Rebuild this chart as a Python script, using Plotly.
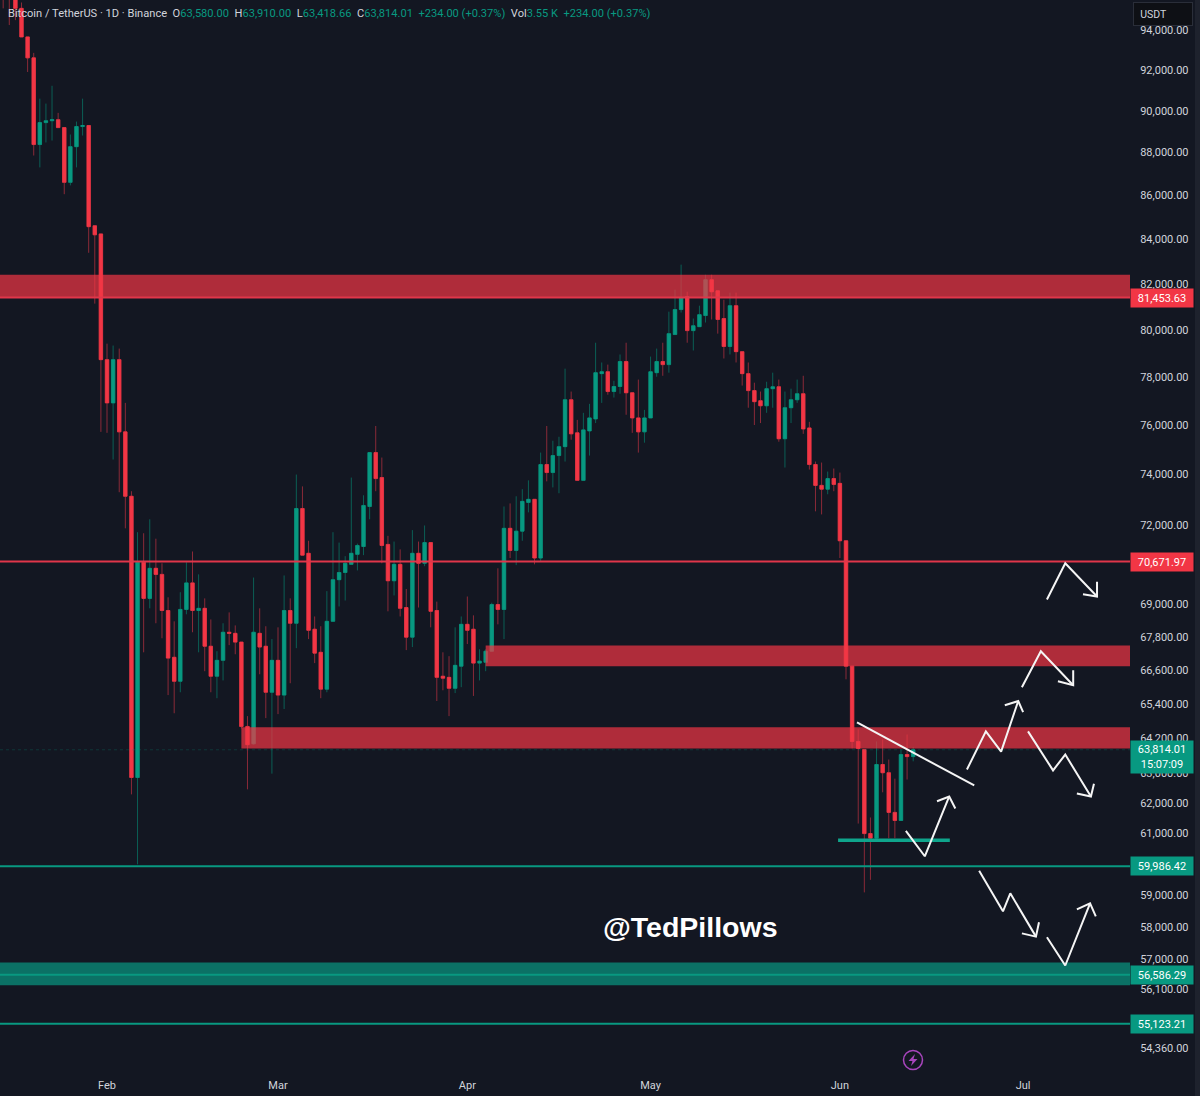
import math
import pandas as pd
import plotly.graph_objects as go

BG = '#131722'
RED = '#f23645'
GREEN = '#089981'
RED_WICK = '#8a2a38'
GREEN_WICK = '#0b5f55'
TEXT = '#d1d4dc'
FONT = 'Roboto'

FIRST_DAY = '2026-01-15'
OPEN = [97000, 96000, 95600, 95100, 93650, 92600, 88380, 89430, 89520, 89570, 89190, 86600, 88280, 89240, 89290, 84600, 84230,
        78720, 76910, 78720, 75720, 73140, 62870, 70590, 69230, 70360, 70130, 68780, 67070, 66210, 68820, 69810, 68780, 68860, 67470, 66390, 66960, 67980, 67940, 67620, 64620, 64020, 67940, 67470, 65820, 66960,
        65720, 68780, 68310, 72660, 70930, 68090, 67250, 65930, 68380, 69930, 70200, 70510, 70890, 71190, 72740, 74880, 73880, 71270, 69890, 70510, 68890, 67800, 70930, 70550, 71340, 68780, 66390, 66350, 65960, 66750,
        68270, 68090, 66860, 66890, 67290, 69000, 68820, 71890, 71040, 71780, 72900, 73020, 70750, 74400, 74080, 74760, 75120, 77040, 75680, 73770, 75760, 76250, 78130, 78210, 77380, 77590, 78640, 77330, 76290, 75720,
        76290, 78170, 78640, 78510, 79790, 80870, 81430, 79960, 80130, 80610, 82180, 81690, 80480, 79280, 81040, 79060, 78130, 77420, 77000, 76790, 77500, 77580, 75440, 76710, 77040, 77290, 75880, 74400, 73570, 73420, 73840,
        73650, 71410, 66750, 64100, 63820, 61000, 60850, 63310, 63030, 61700, 61430, 63650, 63580]
HIGH = [97500, 97000, 96500, 95400, 93650, 92850, 90590, 90350, 91220, 89900, 89190, 88860, 89480, 90590, 89290, 84600, 84230,
        79400, 79320, 79190, 76910, 73340, 71740, 71700, 72240, 71490, 70550, 69270, 68380, 69460, 70590, 71000, 70130, 69230, 68450, 67290, 68310, 68710, 68230, 67620, 64980, 70010, 68860, 68200, 67730, 68160,
        70090, 69230, 74000, 73530, 71410, 68560, 68200, 69500, 71740, 71340, 70820, 73880, 71300, 73180, 74880, 75960, 74680, 71600, 71380, 71080, 69580, 71820, 71380, 72000, 71340, 69110, 67250, 67110, 68160, 68560,
        69300, 68600, 67360, 67360, 69070, 70360, 72740, 72860, 73140, 73420, 73770, 73020, 74880, 75960, 75360, 75520, 78340, 77380, 76210, 76500, 76870, 79440, 78600, 78510, 77830, 78940, 79440, 77330, 77880, 76620,
        78850, 79190, 79440, 80780, 81740, 82850, 81650, 80480, 81040, 82400, 82400, 81690, 81300, 81610, 81610, 79060, 78600, 77750, 77380, 77790, 78170, 77880, 77380, 77500, 77880, 78040, 76130, 74520, 74480, 74120, 74240,
        74080, 71410, 66750, 64520, 63820, 61530, 64100, 64170, 63480, 62830, 63820, 64340, 63910]
LOW = [95100, 94250, 94500, 93650, 91900, 87860, 87300, 88480, 88570, 89190, 86050, 86460, 87300, 88810, 83380, 81130, 75720,
       75680, 74600, 73300, 71890, 62300, 60000, 67250, 68860, 68310, 67760, 65720, 65080, 65820, 68640, 67980, 67250, 66570, 65820, 65610, 66240, 67510, 67180, 64550, 62470, 63990, 66460, 64910, 63000, 65050,
       65230, 66140, 67400, 70860, 67730, 66860, 65610, 65820, 68380, 68930, 69150, 70510, 70280, 70860, 72240, 73340, 70550, 68750, 69340, 68560, 67330, 67440, 68890, 70440, 68160, 65510, 65890, 64980, 65790, 66000,
       67550, 65690, 66240, 66570, 67290, 68270, 67730, 70750, 70480, 71410, 72510, 70510, 70630, 73730, 73490, 73260, 74520, 75400, 73770, 73770, 74760, 76080, 76910, 77250, 77130, 77290, 76420, 75680, 74880, 75280,
       76290, 78000, 78040, 78170, 79790, 80740, 79440, 79110, 80130, 80310, 80440, 79830, 78770, 78940, 78600, 77630, 76710, 76000, 76080, 76500, 76710, 75320, 74280, 76080, 76910, 75640, 74200, 72550, 72430, 73220, 73340,
       70750, 66280, 63860, 61330, 59100, 59500, 60850, 62370, 60850, 60850, 61430, 62800, 63418.66]
CLOSE = [96000, 95600, 95100, 93650, 92600, 88380, 89430, 89520, 89570, 89190, 86600, 88280, 89240, 89290, 84560, 84190, 78720,
         76910, 78720, 75720, 73140, 62870, 70590, 69230, 70360, 70130, 68780, 67040, 66210, 68820, 69810, 68780, 68860, 67470, 66390, 66960, 67980, 67940, 67620, 64620, 63990, 67980, 67440, 65820, 66960, 65720,
         68780, 68310, 72660, 70860, 68050, 67220, 65930, 68380, 69930, 70200, 70550, 70930, 71230, 72780, 74880, 73840, 71230, 69890, 70510, 68860, 67800, 70930, 70550, 71340, 68750, 66350, 66320, 65960, 66780, 68270,
         68050, 66860, 66930, 67290, 69000, 68820, 71890, 71040, 71780, 72940, 73020, 70750, 74400, 74080, 74760, 75120, 77040, 75640, 73770, 75800, 76290, 78170, 78210, 77380, 77590, 78640, 77330, 76290, 75720, 76290,
         78210, 78640, 78510, 79830, 80870, 81390, 79960, 80170, 80650, 82180, 81650, 80440, 79280, 81040, 79060, 78130, 77420, 76960, 76790, 77500, 77580, 75440, 76710, 77040, 77290, 75840, 74400, 73570, 73420, 73840, 73610,
         71410, 66750, 64100, 63860, 61000, 60850, 63310, 63030, 61700, 61430, 63650, 63580, 63814.01]

PRICE_TICKS = [94000, 92000, 90000, 88000, 86000, 84000, 82000, 80000, 78000, 76000, 74000, 72000, 69000, 67800, 66600,
               65400, 64200, 63000, 62000, 61000, 59000, 58000, 57000, 56100, 54360]
PRICE_TEXT = ['%s.00' % format(p, ',') for p in PRICE_TICKS]
MONTH_DATES = ['2026-02-01', '2026-03-01', '2026-04-01', '2026-05-01', '2026-06-01', '2026-07-01']
MONTH_NAMES = ['Feb', 'Mar', 'Apr', 'May', 'Jun', 'Jul']

RED_LABELS = ['81,453.63', '70,671.97']
RED_LEVELS = [81394, 70617]
GREEN_LABELS = ['59,986.42', '56,586.29', '55,123.21']
GREEN_LEVELS = [59934, 56541, 55070]
LAST_PRICE = 63814.01
COUNTDOWN = '15:07:09'

# zones: start date, top price, bottom price
RED_ZONES = [('2026-01-14', 82400, 81394), ('2026-04-04', 67500, 66750), ('2026-02-23', 64590, 63857)]
GREEN_ZONES = [('2026-01-14', 56910, 56220)]

# hand drawn marks, days after 1 Feb and price
TREND_DAYS = [122.8, 142.0]
TREND_PRICES = [64760, 62600]
SUPPORT_DAYS = [119.7, 138.0]
SUPPORT_PRICES = [60785, 60785]
ARROWS = [
    ([130.8, 133.9, 137.9], [61090, 60260, 62230], [135.9, 137.9, 138.9], [62070, 62230, 61830]),
    ([140.8, 143.9, 146.4, 149.2], [63140, 64450, 63750, 65510], [147.0, 149.2, 150.0], [65360, 65510, 65120]),
    ([149.8, 152.9, 158.2], [66000, 67290, 66070], [155.7, 158.2, 158.2], [66210, 66070, 66600]),
    ([150.8, 154.9, 156.9, 161.1], [64450, 63110, 63650, 62230], [158.8, 161.1, 161.6], [62330, 62230, 62660]),
    ([153.9, 156.9, 162.1], [69190, 70550, 69300], [159.8, 162.1, 162.1], [69380, 69300, 69850]),
    ([142.8, 146.7, 147.9, 152.1], [59790, 58500, 59070, 57710], [149.8, 152.1, 152.6], [57810, 57710, 58160]),
    ([153.9, 156.9, 160.96], [57690, 56820, 58750], [158.8, 160.96, 161.9], [58560, 58750, 58340]),
]

X_START = '2026-01-14 11:30'
X_END = '2026-07-18 12:00'
Y_TOP = 95529
Y_BOTTOM = 53713
WIDTH, HEIGHT = 1200, 1096
M_RIGHT, M_BOTTOM = 70, 26
PLOT_W = WIDTH - M_RIGHT
PLOT_H = HEIGHT - M_BOTTOM


def to_date(day):
    return pd.Timestamp('2026-02-01') + pd.to_timedelta(day, 'D')


def xp(px):
    return px / PLOT_W


def yp(py):
    return 1 - py / PLOT_H


def line_trace(x, y, color, width, dash='solid'):
    return go.Scatter(x=x, y=y, mode='lines', line=dict(color=color, width=width, dash=dash),
                      hoverinfo='skip', showlegend=False)


def zone_trace(start, top, bottom, color):
    return go.Scatter(x=[start, X_END, X_END, start, start], y=[top, top, bottom, bottom, top], mode='lines',
                      line=dict(width=0), fill='toself', fillcolor=color, hoverinfo='skip', showlegend=False)


def tag(price, text, color, height=16, yshift=0):
    return dict(x=1, xref='paper', y=math.log10(price), yref='y', text=text, showarrow=False,
                xanchor='left', xshift=-0.5, yshift=yshift, width=60, height=height, align='center', bgcolor=color,
                font=dict(family=FONT, size=11, color='white'))


dates = pd.date_range(FIRST_DAY, periods=len(OPEN), freq='D')
body_high = [max(o, c) for o, c in zip(OPEN, CLOSE)]
body_low = [min(o, c) for o, c in zip(OPEN, CLOSE)]

fig = go.Figure()
# wicks are dimmer than the bodies, so two layers
fig.add_trace(go.Candlestick(
    x=dates, open=OPEN, high=HIGH, low=LOW, close=CLOSE,
    increasing=dict(fillcolor=GREEN_WICK, line=dict(color=GREEN_WICK, width=1)),
    decreasing=dict(fillcolor=RED_WICK, line=dict(color=RED_WICK, width=1)),
    whiskerwidth=0, showlegend=False, hoverinfo='skip'))
fig.add_trace(go.Candlestick(
    x=dates, open=OPEN, high=body_high, low=body_low, close=CLOSE,
    increasing=dict(fillcolor=GREEN, line=dict(color=GREEN, width=0.6)),
    decreasing=dict(fillcolor=RED, line=dict(color=RED, width=0.6)),
    whiskerwidth=0, showlegend=False, hoverinfo='skip'))

# faint last price line
fig.add_trace(line_trace([X_START, X_END], [LAST_PRICE, LAST_PRICE], 'rgba(8,153,129,0.25)', 1, 'dot'))

for start, top, bottom in RED_ZONES:
    fig.add_trace(zone_trace(start, top, bottom, 'rgba(242,54,69,0.7)'))
for start, top, bottom in GREEN_ZONES:
    fig.add_trace(zone_trace(start, top, bottom, 'rgba(8,153,129,0.7)'))

for p in RED_LEVELS:
    fig.add_trace(line_trace([X_START, X_END], [p, p], '#e0364a', 2))
for p in GREEN_LEVELS:
    fig.add_trace(line_trace([X_START, X_END], [p, p], GREEN, 2))

fig.add_trace(line_trace([to_date(d) for d in SUPPORT_DAYS], SUPPORT_PRICES, '#0fa58c', 3.5))
fig.add_trace(line_trace([to_date(d) for d in TREND_DAYS], TREND_PRICES, '#f5f5f5', 2))
for days, prices, head_days, head_prices in ARROWS:
    fig.add_trace(line_trace([to_date(d) for d in days], prices, '#f5f5f5', 2))
    fig.add_trace(line_trace([to_date(d) for d in head_days], head_prices, '#f5f5f5', 2))

annotations = []
for p, label in zip(RED_LEVELS, RED_LABELS):
    annotations.append(tag(p, label, RED))
for p, label in zip(GREEN_LEVELS, GREEN_LABELS):
    annotations.append(tag(p, label, GREEN))
annotations.append(tag(LAST_PRICE, format(LAST_PRICE, ',.2f') + '<br>' + COUNTDOWN, GREEN, height=30, yshift=-7))

GR = '<span style="color:#089981">%s</span>'
header = ('Bitcoin / TetherUS · 1D · Binance  O' + GR % '63,580.00' + '  H' + GR % '63,910.00'
          + '  L' + GR % '63,418.66' + '  C' + GR % '63,814.01' + '  ' + GR % '+234.00 (+0.37%)'
          + '  Vol' + GR % '3.55 K' + '  ' + GR % '+234.00 (+0.37%)')
annotations.append(dict(x=xp(6), y=yp(13), xref='paper', yref='paper', text=header, showarrow=False,
                        xanchor='left', yanchor='middle', font=dict(family=FONT, size=11.1, color=TEXT)))
annotations.append(dict(x=xp(1133), y=yp(14), xref='paper', yref='paper', text='&nbsp;&nbsp;USDT', showarrow=False,
                        xanchor='left', yanchor='middle', width=56, height=20, align='left', bgcolor='#0e1015',
                        bordercolor='#2a2e39', borderwidth=1, font=dict(family=FONT, size=10.5, color=TEXT)))
annotations.append(dict(x=xp(690), y=math.log10(58000), xref='paper', yref='y', text='@TedPillows', showarrow=False,
                        font=dict(family='Liberation Sans', size=28.5, color='white', weight=700)))

shapes = [
    # scrollbar edge right of the price scale
    dict(type='rect', xref='paper', yref='paper', x0=xp(1195), x1=xp(1200), y0=yp(HEIGHT), y1=1,
         fillcolor='#1e222d', line=dict(width=0)),
    # lightning badge at the bottom
    dict(type='circle', xref='paper', yref='paper', x0=xp(903.5), x1=xp(922.5), y0=yp(1069.5), y1=yp(1050.5),
         line=dict(color='#a845bd', width=1.5)),
    dict(type='path', xref='paper', yref='paper', fillcolor='#a845bd', line=dict(width=0),
         path='M %f %f L %f %f L %f %f L %f %f L %f %f L %f %f Z' % (
             xp(915), yp(1054), xp(908.5), yp(1061), xp(912.5), yp(1061),
             xp(911), yp(1066), xp(917.5), yp(1059), xp(913.5), yp(1059))),
]

fig.update_layout(
    width=WIDTH, height=HEIGHT,
    margin=dict(l=0, r=M_RIGHT, t=0, b=M_BOTTOM),
    paper_bgcolor=BG, plot_bgcolor=BG,
    boxmode='overlay',
    boxgap=0.2,
    showlegend=False,
    font=dict(family=FONT, size=11, color=TEXT),
    annotations=annotations,
    shapes=shapes,
    xaxis=dict(type='date', range=[X_START, X_END], rangeslider=dict(visible=False), showgrid=False, zeroline=False,
               showline=False, tickmode='array', tickvals=MONTH_DATES, ticktext=MONTH_NAMES,
               ticks='outside', ticklen=5, tickcolor=BG, tickfont=dict(family=FONT, size=11, color=TEXT)),
    yaxis=dict(type='log', side='right', range=[math.log10(Y_BOTTOM), math.log10(Y_TOP)], showgrid=False,
               zeroline=False, showline=False, tickmode='array', tickvals=PRICE_TICKS, ticktext=PRICE_TEXT,
               ticks='outside', ticklen=7, tickcolor=BG, tickfont=dict(family=FONT, size=11, color=TEXT)),
)

# page has a default body margin that would shift the chart
fig.write_html('out.html', config=dict(displayModeBar=False),
               post_script="document.body.style.margin='0';document.body.style.overflow='hidden';")
